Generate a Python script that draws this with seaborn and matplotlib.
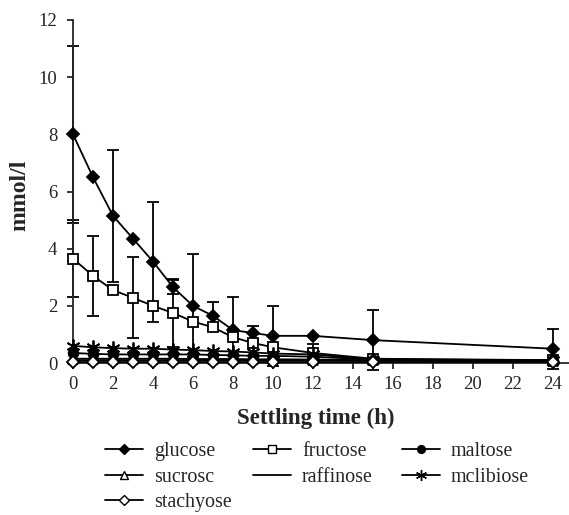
import numpy as np
import pandas as pd
import seaborn as sns
import matplotlib.pyplot as plt
from matplotlib.lines import Line2D

nan = np.nan
hours = [0, 1, 2, 3, 4, 5, 6, 7, 8, 9, 10, 12, 15, 24]
glucose = [8.0, 6.5, 5.15, 4.35, 3.55, 2.65, 2.0, 1.65, 1.15, 1.05, 0.95, 0.95, 0.8, 0.5]
glucose_sd = [3.1, nan, 2.3, nan, 2.1, 0.25, 1.8, 0.48, 1.15, 0.25, 1.05, nan, 1.05, 0.7]
fructose = [3.65, 3.05, 2.55, 2.28, 2.0, 1.75, 1.45, 1.25, 0.9, 0.7, 0.55, 0.35, 0.15, 0.1]
fructose_sd = [1.35, 1.4, nan, 1.42, nan, 1.2, nan, nan, nan, nan, nan, 0.3, nan, nan]
maltose = [0.35, 0.32, 0.3, 0.3, 0.3, 0.3, 0.3, 0.28, 0.27, 0.25, 0.25, 0.22, 0.12, 0.1]
sucrose = [0.15, 0.15, 0.15, 0.15, 0.15, 0.15, 0.14, 0.14, 0.14, 0.13, 0.13, 0.12, 0.1, 0.08]
raffinose = [0.1, 0.1, 0.1, 0.1, 0.1, 0.1, 0.1, 0.1, 0.1, 0.1, 0.1, 0.1, 0.08, 0.06]
melibiose = [0.6, 0.55, 0.52, 0.5, 0.5, 0.47, 0.45, 0.42, 0.4, 0.37, 0.33, 0.3, 0.12, 0.1]
stachyose = [0.02, 0.02, 0.02, 0.02, 0.02, 0.02, 0.02, 0.02, 0.02, 0.02, 0.02, 0.02, 0.02, 0.02]

names = ["glucose", "fructose", "maltose", "sucrosc", "raffinose", "mclibiose", "stachyose"]
series = [glucose, fructose, maltose, sucrose, raffinose, melibiose, stachyose]
legend_columns = [["glucose", "sucrosc", "stachyose"],
                  ["fructose", "raffinose"],
                  ["maltose", "mclibiose"]]
styles = {
    "glucose": dict(marker="D", mfc="black", ms=6),
    "fructose": dict(marker="s", mfc="white", ms=7),
    "maltose": dict(marker="o", mfc="black", ms=7),
    "sucrosc": dict(marker="^", mfc="white", ms=7),
    "raffinose": dict(marker="None", mfc="black", ms=6),
    "mclibiose": dict(marker=(6, 2, 0), mfc="black", ms=10),
    "stachyose": dict(marker="D", mfc="white", ms=6),
}

sns.set_style("ticks")
plt.rcParams["font.family"] = ["Liberation Serif", "DejaVu Serif"]

W, H = 569, 515
fig = plt.figure(figsize=(W / 100, H / 100), dpi=100)
ax = fig.add_axes([73 / W, 1 - 363 / H, 496 / W, 343 / H])

df = pd.DataFrame({"hours": hours * len(names),
                   "value": sum(series, []),
                   "sugar": sum([[n] * len(hours) for n in names], [])})

for n in names:
    st = styles[n]
    sns.lineplot(data=df[df.sugar == n], x="hours", y="value", ax=ax, color="black",
                 lw=1.3, marker=st["marker"], markersize=st["ms"],
                 markerfacecolor=st["mfc"], markeredgecolor="black", markeredgewidth=1.3,
                 legend=False, zorder=3, clip_on=False)

for vals, sd in [(glucose, glucose_sd), (fructose, fructose_sd)]:
    ax.errorbar(hours, vals, yerr=sd, fmt="none", ecolor="black",
                elinewidth=1.3, capsize=4, capthick=1.3, zorder=2, clip_on=False)

ax.set_xlim(0, 24.8)
ax.set_ylim(0, 12)
ax.set_xticks(range(0, 25, 2))
ax.set_yticks(range(0, 13, 2))
ax.tick_params(axis="both", labelsize=13.5, width=1.3, length=4.3, direction="out")
ax.tick_params(axis="x", pad=5)
ax.tick_params(axis="y", pad=7)
for s in ["left", "bottom"]:
    ax.spines[s].set_linewidth(1.3)
sns.despine(ax=ax)
ax.set_xlabel("Settling time (h)", fontsize=16.5, fontweight="bold")
ax.set_ylabel("mmol/l", fontsize=17, fontweight="bold")
ax.xaxis.label.set_va("center")
ax.yaxis.label.set_va("center")
ax.xaxis.set_label_coords((316 - 73) / 496, (363 - 418) / 343)
ax.yaxis.set_label_coords((20 - 73) / 496, (363 - 195) / 343)

col_x = [105, 253, 402]
for cx, col in zip(col_x, legend_columns):
    handles = [Line2D([], [], color="black", lw=1.3, marker=styles[n]["marker"],
                      markersize=styles[n]["ms"] * 0.8, markerfacecolor=styles[n]["mfc"],
                      markeredgecolor="black") for n in col]
    leg = fig.legend(handles, col, loc="upper left", bbox_to_anchor=(cx / W, 1 - 442 / H),
                     frameon=False, fontsize=14.4, handlelength=1.9, handletextpad=0.55,
                     labelspacing=0.33, borderaxespad=0, borderpad=0)

fig.savefig("out.png", dpi=100)
